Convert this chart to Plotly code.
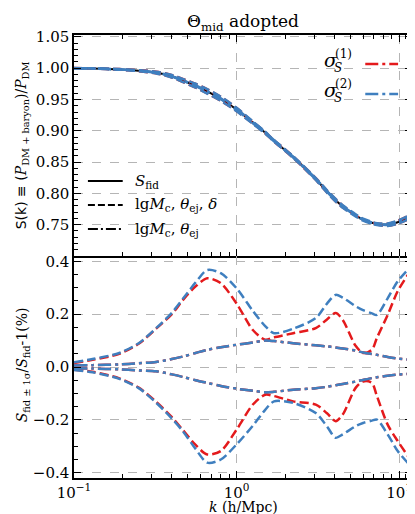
import numpy as np
import plotly.graph_objects as go
from plotly.subplots import make_subplots

# ---------------- data ----------------
k = [0.10, 0.13, 0.19, 0.25, 0.32, 0.40, 0.47, 0.56, 0.66, 0.80, 1.00, 1.26, 1.50,
     1.70, 2.23, 3.07, 3.60, 4.07, 4.50, 5.40, 6.00, 6.80, 7.30, 8.50, 9.80, 11.5, 12.0]

s_fid = [1.000, 0.9995, 0.998, 0.996, 0.993, 0.987, 0.980, 0.972, 0.963, 0.951, 0.934,
         0.913, 0.897, 0.884, 0.858, 0.823, 0.803, 0.789, 0.779, 0.765, 0.758, 0.753,
         0.751, 0.750, 0.754, 0.762, 0.765]

# percent deviations, sigma^(1) (red) and sigma^(2) (blue)
red_dash_up = [0.015, 0.027, 0.050, 0.088, 0.145, 0.200, 0.255, 0.305, 0.336, 0.317, 0.240,
               0.140, 0.103, 0.112, 0.128, 0.147, 0.180, 0.204, 0.178, 0.080, 0.053, 0.065,
               0.110, 0.197, 0.287, 0.355, 0.370]
red_dash_lo = [-0.010, -0.018, -0.043, -0.078, -0.132, -0.190, -0.240, -0.295, -0.331, -0.318,
               -0.237, -0.142, -0.105, -0.110, -0.130, -0.142, -0.175, -0.205, -0.180, -0.079,
               -0.055, -0.060, -0.110, -0.218, -0.280, -0.343, -0.360]
blue_dash_up = [0.018, 0.030, 0.053, 0.090, 0.147, 0.205, 0.260, 0.320, 0.367, 0.355, 0.298,
                0.212, 0.155, 0.128, 0.145, 0.185, 0.240, 0.273, 0.262, 0.230, 0.215, 0.203,
                0.197, 0.260, 0.324, 0.373, 0.385]
blue_dash_lo = [-0.011, -0.020, -0.045, -0.080, -0.135, -0.195, -0.245, -0.310, -0.362, -0.350,
                -0.293, -0.222, -0.162, -0.130, -0.136, -0.174, -0.225, -0.268, -0.255, -0.224,
                -0.212, -0.203, -0.199, -0.255, -0.318, -0.368, -0.380]
dashdot_up = [0.006, 0.007, 0.010, 0.014, 0.019, 0.030, 0.040, 0.053, 0.065, 0.075, 0.084,
              0.093, 0.100, 0.098, 0.090, 0.082, 0.078, 0.074, 0.070, 0.062, 0.055, 0.049,
              0.046, 0.038, 0.032, 0.028, 0.027]
dashdot_lo = [-0.005, -0.006, -0.009, -0.013, -0.016, -0.028, -0.038, -0.050, -0.060, -0.072,
              -0.082, -0.090, -0.096, -0.094, -0.086, -0.080, -0.075, -0.069, -0.064, -0.055,
              -0.049, -0.042, -0.039, -0.033, -0.029, -0.026, -0.025]

x_tickvals = [0.1, 1, 10]
x_ticktext = ["10<sup>\u22121</sup>", "10<sup>0</sup>", "10<sup>1</sup>"]
top_tickvals = [0.75, 0.80, 0.85, 0.90, 0.95, 1.00, 1.05]
bot_tickvals = [-0.4, -0.2, 0.0, 0.2, 0.4]

# ---------------- style ----------------
RED = "#e41a1c"
BLUE = "#3f7fbf"
DASH = "9px,4px"
DASHDOT = "13px,4px,3px,4px"
LW = 2.5
FONT = "DejaVu Serif"

W, H = 415, 514
L, R, T, B = 66, 9, 27, 44
PW, PH = W - L - R, H - T - B


def px(xp):
    return (xp - L) / PW


def py(yp):
    return (H - B - yp) / PH


fig = make_subplots(rows=2, cols=1, shared_xaxes=True, vertical_spacing=0,
                    row_heights=[221 / 443, 222 / 443])

ks = np.array(k)
sf = np.array(s_fid)


def add(x, y, color, dash, width, row):
    fig.add_trace(go.Scatter(x=x, y=y, mode="lines", showlegend=False, hoverinfo="skip",
                             line=dict(color=color, dash=dash, width=width,
                                       shape="spline", smoothing=0.8)), row=row, col=1)


# top panel
add(k, s_fid, "black", "solid", 2, 1)
for arr in (red_dash_up, red_dash_lo):
    add(k, sf * (1 + np.array(arr) / 100), RED, DASH, LW, 1)
for arr in (dashdot_up, dashdot_lo):
    add(k, sf * (1 + np.array(arr) / 100), BLUE, DASHDOT, LW, 1)
for arr in (blue_dash_up, blue_dash_lo):
    add(k, sf * (1 + np.array(arr) / 100), BLUE, DASH, LW, 1)

# bottom panel
for arr in (dashdot_up, dashdot_lo):
    add(k, arr, RED, DASHDOT, LW, 2)
for arr in (red_dash_up, red_dash_lo):
    add(k, arr, RED, DASH, LW, 2)
for arr in (blue_dash_up, blue_dash_lo):
    add(k, arr, BLUE, DASH, LW, 2)
for arr in (dashdot_up, dashdot_lo):
    add(k, arr, BLUE, DASHDOT, LW, 2)

minor_x = [v * d for d in (0.1, 1, 10) for v in range(2, 10)] + [11, 12]

xcommon = dict(type="log", range=[-1, np.log10(12)], tickmode="array",
               tickvals=x_tickvals, ticktext=x_ticktext, ticks="inside", ticklen=7,
               tickwidth=1, tickcolor="black", showline=True, linewidth=1.5,
               linecolor="black", showgrid=True, gridcolor="#b5b5b5", griddash="dash",
               gridwidth=1, zeroline=False,
               minor=dict(tickmode="array", tickvals=minor_x, ticks="inside", ticklen=4,
                          tickcolor="black", tickwidth=1, showgrid=False),
               tickfont=dict(family=FONT, size=15, color="black"))
fig.update_xaxes(**xcommon)
fig.update_xaxes(row=1, col=1, showticklabels=False, mirror="allticks")
fig.update_xaxes(row=2, col=1, mirror=False)

ycommon = dict(ticks="inside", ticklen=7, tickwidth=1, tickcolor="black", showline=True,
               linewidth=1.5, linecolor="black", mirror="allticks", showgrid=True,
               gridcolor="#b5b5b5", griddash="dash", gridwidth=1, zeroline=False,
               tickfont=dict(family=FONT, size=15, color="black"))
fig.update_yaxes(row=1, col=1, range=[0.70, 1.053], tickmode="array",
                 tickvals=top_tickvals, tickformat=".2f",
                 minor=dict(tickmode="linear", tick0=0.70, dtick=0.01, ticks="inside",
                            ticklen=4, tickcolor="black", showgrid=False), **ycommon)
fig.update_yaxes(row=2, col=1, range=[-0.42, 0.42], tickmode="array",
                 tickvals=bot_tickvals, tickformat=".1f",
                 minor=dict(tickmode="linear", tick0=-0.4, dtick=0.05, ticks="inside",
                            ticklen=4, tickcolor="black", showgrid=False), **ycommon)

ann = []


def text(x, y, s, size=15, xanchor="left", angle=0, family=FONT):
    ann.append(dict(x=x, y=y, xref="paper", yref="paper", text=s, showarrow=False,
                    xanchor=xanchor, yanchor="middle", textangle=angle, borderpad=0,
                    font=dict(family=family, size=size, color="black")))


# title and axis labels
text(px(236.5), py(15), "\u0398<sub>mid</sub> adopted", size=17, xanchor="center")
text(px(236.5), py(499), "<i>k</i> (h/Mpc)", size=14, xanchor="center")
text(px(14), py(137), "<span style='font-family:DejaVu Sans'>S(k) \u2261 (</span>"
     "<i>P</i><sub>DM + baryon</sub>)/<i>P</i><sub>DM</sub>", size=14,
     xanchor="center", angle=-90)
text(px(15), py(357), "<i>S</i><sub>fid \u00b1 1\u03c3</sub>/<i>S</i><sub>fid</sub>-1(%)",
     size=14, xanchor="center", angle=-90)

# legend 1 (top right): text left of sample
shapes = []


def sample(x0, x1, y, color, dash, width=LW):
    shapes.append(dict(type="line", xref="paper", yref="paper", x0=px(x0), x1=px(x1),
                       y0=py(y), y1=py(y), line=dict(color=color, dash=dash, width=width)))


for yy, lab, col in ((56, "(1)", RED), (86, "(2)", BLUE)):
    text(px(316), py(yy - 4), "<i>\u03c3</i>", size=19)
    text(px(327), py(yy + 4), "<i>S</i>", size=12)
    text(px(328), py(yy - 10), lab, size=12)
    sample(359, 392, yy, col, DASHDOT)

# legend 2 (lower left of top panel)
sample(80, 115, 173, "black", "solid", 2)
sample(80, 115, 197, "black", "7px,3px", 2)
sample(80, 115, 221, "black", "10px,3px,2px,3px", 2)
text(px(126), py(173), "<i>S</i><sub>fid</sub>", size=15)
text(px(126), py(197), "lg<i>M</i><sub>c</sub>, <i>\u03b8</i><sub>ej</sub>, <i>\u03b4</i>", size=15)
text(px(126), py(221), "lg<i>M</i><sub>c</sub>, <i>\u03b8</i><sub>ej</sub>", size=15)

fig.update_layout(width=W, height=H, margin=dict(l=L, r=R, t=T, b=B),
                  plot_bgcolor="white", paper_bgcolor="white", showlegend=False,
                  annotations=ann, shapes=shapes)

fig.write_html("out.html")
